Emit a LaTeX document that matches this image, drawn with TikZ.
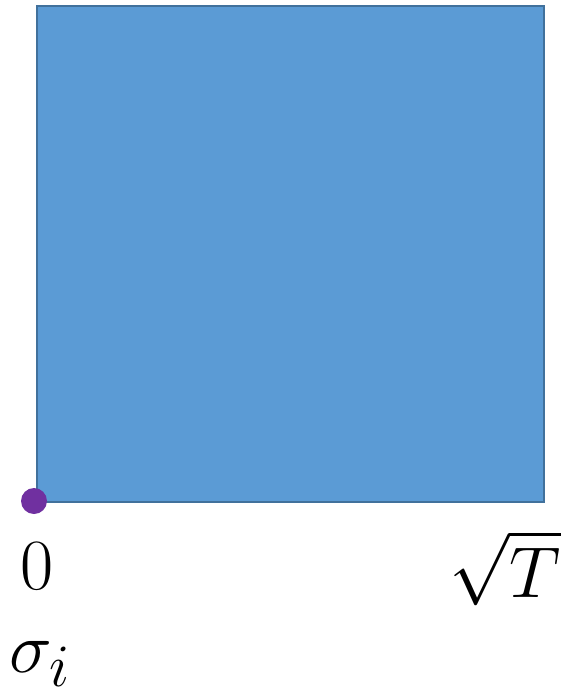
\documentclass[tikz,border=0pt]{standalone}
\usepackage{amsmath}
\usepackage{tikz}
\usetikzlibrary{positioning}
\definecolor{cajaAzul}{RGB}{91,155,213}
\definecolor{bordeAzul}{RGB}{65,113,156}
\definecolor{puntoMorado}{RGB}{112,48,160}

\begin{document}
\begin{tikzpicture}[
  x=0.02cm, y=-0.02cm,
  caja/.style={draw=bordeAzul, fill=cajaAzul, line width=1.2pt},
  punto/.style={circle, fill=puntoMorado, inner sep=0pt, minimum size=0.52cm},
  etiqueta/.style={font=\Huge, scale=1.65, inner sep=0pt}
]
\useasboundingbox (0,0) rectangle (561,698);

% Region
\draw[caja] (37,6) rectangle (544,502);
\coordinate (origen) at (37,502);

% Punto inicial
\node[punto] (p0) at (34,501) {};

% Etiquetas
\node[etiqueta] (cero) at (37,566) {$0$};
\node[etiqueta] (raizT) at (505,568) {$\sqrt{T}$};
\node[etiqueta] (sigma) at (40,664) {$\sigma_i$};

\end{tikzpicture}
\end{document}
